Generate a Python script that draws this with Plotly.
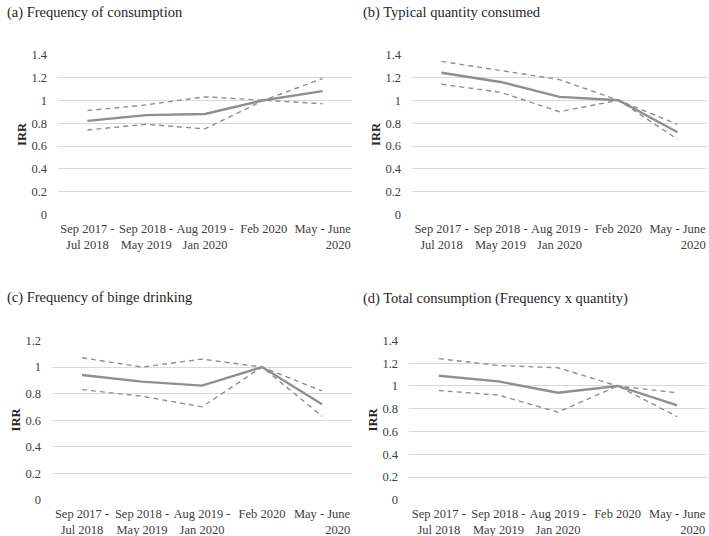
import plotly.graph_objects as go

categories = ["Sep 2017 -<br>Jul 2018", "Sep 2018 -<br>May 2019", "Aug 2019 -<br>Jan 2020",
              "Feb 2020", "May - June<br>          2020"]

titles = ["(a) Frequency of consumption", "(b) Typical quantity consumed",
          "(c) Frequency of binge drinking", "(d) Total consumption (Frequency x quantity)"]

a_irr = [0.82, 0.87, 0.88, 1.00, 1.08]
a_ci1 = [0.91, 0.96, 1.03, 1.00, 0.97]
a_ci2 = [0.74, 0.79, 0.75, 1.00, 1.19]

b_irr = [1.24, 1.16, 1.03, 1.00, 0.72]
b_ci1 = [1.34, 1.26, 1.18, 1.00, 0.79]
b_ci2 = [1.14, 1.07, 0.90, 1.00, 0.66]

c_irr = [0.94, 0.89, 0.86, 1.00, 0.72]
c_ci1 = [1.07, 1.00, 1.06, 1.00, 0.82]
c_ci2 = [0.83, 0.78, 0.70, 1.00, 0.63]

d_irr = [1.09, 1.04, 0.94, 1.00, 0.83]
d_ci1 = [1.24, 1.18, 1.16, 1.00, 0.94]
d_ci2 = [0.96, 0.92, 0.77, 1.00, 0.73]

panels = [(a_irr, a_ci1, a_ci2, 1.4), (b_irr, b_ci1, b_ci2, 1.4),
          (c_irr, c_ci1, c_ci2, 1.2), (d_irr, d_ci1, d_ci2, 1.4)]

W, H = 709, 536
# pixel boxes: x0, x1, ytop, ybottom
boxes = [(58, 352, 54, 215), (412, 707, 54, 215), (52, 352, 340, 500), (409, 707, 340, 500)]
title_pos = [(5, 13), (361, 13), (5, 297), (361, 298)]

FONT = "Liberation Serif"
LINE = "#8f8f8f"
TXT = "#404040"


def fx(px):
    return px / W


def fy(py):
    return 1 - py / H


fig = go.Figure()
layout = dict(width=W, height=H, margin=dict(l=0, r=0, t=0, b=0, autoexpand=False),
              paper_bgcolor="white", plot_bgcolor="white", showlegend=False,
              font=dict(family=FONT, size=12, color=TXT), annotations=[])

for i, (irr, ci1, ci2, ymax) in enumerate(panels):
    n = i + 1
    xa = "x" if n == 1 else f"x{n}"
    ya = "y" if n == 1 else f"y{n}"
    for vals, dash, w in [(ci1, "dash", 1.4), (ci2, "dash", 1.4), (irr, "solid", 2.4)]:
        fig.add_trace(go.Scatter(x=categories, y=vals, mode="lines", xaxis=xa, yaxis=ya,
                                 line=dict(color=LINE, width=w, dash=dash if dash == "solid" else "5px,4px"),
                                 hoverinfo="skip"))
    x0, x1, yt, yb = boxes[i]
    layout["xaxis" if n == 1 else f"xaxis{n}"] = dict(
        domain=[fx(x0), fx(x1)], anchor=ya, type="category", range=[-0.5, 4.5],
        showgrid=False, showline=False, zeroline=False, ticks="", automargin=False,
        ticklabelstandoff=4, tickfont=dict(family=FONT, size=12.5, color=TXT))
    layout["yaxis" if n == 1 else f"yaxis{n}"] = dict(
        domain=[fy(yb), fy(yt)], anchor=xa, range=[-0.002, ymax + 0.004],
        dtick=0.2, tick0=0, showgrid=True, gridcolor="#d9d9d9", gridwidth=1,
        zeroline=False, showline=False, ticks="", ticklabelstandoff=10, automargin=False,
        tickfont=dict(family=FONT, size=12.5, color=TXT),
        title=dict(text="<b>IRR</b>", font=dict(family=FONT, size=12.5, color="#262626"), standoff=2))
    tx, ty = title_pos[i]
    layout["annotations"].append(dict(text=titles[i], x=fx(tx), y=fy(ty), xref="paper", yref="paper",
                                      xanchor="left", yanchor="middle", showarrow=False,
                                      font=dict(family=FONT, size=14.5, color="#262626")))

fig.update_layout(**layout)
fig.write_html("out.html", config={"displayModeBar": False, "staticPlot": True},
               post_script="document.body.style.margin='0';document.body.style.overflow='hidden';")
